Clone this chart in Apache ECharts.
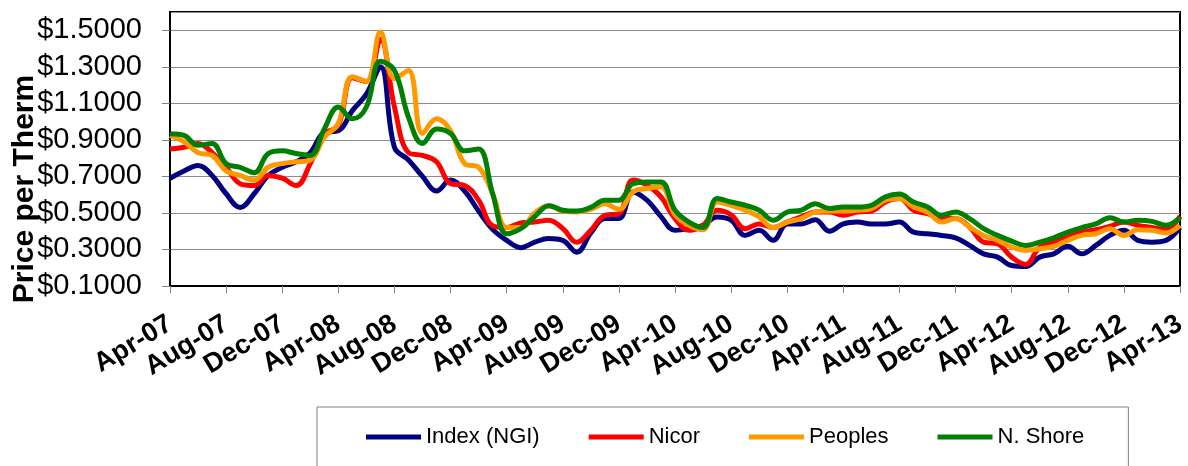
<!DOCTYPE html>
<html>
<head>
    <meta charset="utf-8"/>
    <title></title>
    <script src="https://cdn.jsdelivr.net/npm/echarts@6/dist/echarts.min.js"></script>
    <style>
        html, body { margin: 0; padding: 0; background: #fff; }
        #main { width: 1188px; height: 466px; }
    </style>
</head>
<body>
<div id="main"></div>
<script type="text/javascript">
    /* months, Apr-07 .. Apr-13 */
    var months = [
        'Apr-07', 'May-07', 'Jun-07', 'Jul-07', 'Aug-07', 'Sep-07', 'Oct-07', 'Nov-07', 'Dec-07', 'Jan-08', 'Feb-08', 'Mar-08',
        'Apr-08', 'May-08', 'Jun-08', 'Jul-08', 'Aug-08', 'Sep-08', 'Oct-08', 'Nov-08', 'Dec-08', 'Jan-09', 'Feb-09', 'Mar-09',
        'Apr-09', 'May-09', 'Jun-09', 'Jul-09', 'Aug-09', 'Sep-09', 'Oct-09', 'Nov-09', 'Dec-09', 'Jan-10', 'Feb-10', 'Mar-10',
        'Apr-10', 'May-10', 'Jun-10', 'Jul-10', 'Aug-10', 'Sep-10', 'Oct-10', 'Nov-10', 'Dec-10', 'Jan-11', 'Feb-11', 'Mar-11',
        'Apr-11', 'May-11', 'Jun-11', 'Jul-11', 'Aug-11', 'Sep-11', 'Oct-11', 'Nov-11', 'Dec-11', 'Jan-12', 'Feb-12', 'Mar-12',
        'Apr-12', 'May-12', 'Jun-12', 'Jul-12', 'Aug-12', 'Sep-12', 'Oct-12', 'Nov-12', 'Dec-12', 'Jan-13', 'Feb-13', 'Mar-13',
        'Apr-13'
    ];

    var indexNgi = [
        0.69, 0.73, 0.76, 0.705, 0.605, 0.53, 0.605, 0.705, 0.75, 0.78, 0.83, 0.94,
        0.95, 1.06, 1.15, 1.30, 0.86, 0.79, 0.70, 0.62, 0.68, 0.62, 0.51, 0.41,
        0.35, 0.31, 0.34, 0.36, 0.35, 0.285, 0.39, 0.47, 0.47, 0.615, 0.57, 0.48,
        0.405, 0.414, 0.432, 0.478, 0.46, 0.377, 0.405, 0.35, 0.44, 0.44, 0.463, 0.40,
        0.44, 0.45, 0.44, 0.44, 0.45, 0.395, 0.386, 0.377, 0.364, 0.322, 0.276, 0.258,
        0.212, 0.207, 0.258, 0.276, 0.317, 0.276, 0.322, 0.377, 0.405, 0.35, 0.34, 0.35,
        0.42
    ];
    var nicor = [
        0.85, 0.86, 0.88, 0.83, 0.75, 0.66, 0.65, 0.705, 0.69, 0.65, 0.77, 0.93,
        0.98, 1.24, 1.22, 1.45, 1.08, 0.83, 0.815, 0.78, 0.66, 0.65, 0.57, 0.43,
        0.42, 0.445, 0.45, 0.46, 0.415, 0.34, 0.405, 0.487, 0.496, 0.68, 0.652, 0.588,
        0.469, 0.405, 0.432, 0.515, 0.49, 0.414, 0.44, 0.42, 0.45, 0.478, 0.505, 0.505,
        0.487, 0.505, 0.51, 0.56, 0.579, 0.515, 0.496, 0.469, 0.469, 0.423, 0.34, 0.331,
        0.258, 0.218, 0.313, 0.34, 0.368, 0.395, 0.408, 0.427, 0.45, 0.432, 0.42, 0.408,
        0.482
    ];
    var peoples = [
        0.925, 0.89, 0.83, 0.815, 0.73, 0.705, 0.68, 0.75, 0.77, 0.78, 0.79, 0.915,
        0.99, 1.245, 1.22, 1.49, 1.235, 1.28, 0.935, 1.015, 0.95, 0.77, 0.75, 0.605,
        0.42, 0.42, 0.50, 0.54, 0.51, 0.505, 0.52, 0.55, 0.52, 0.615, 0.634, 0.643,
        0.49, 0.432, 0.408, 0.56, 0.542, 0.515, 0.478, 0.42, 0.45, 0.469, 0.505, 0.51,
        0.51, 0.515, 0.524, 0.57, 0.579, 0.533, 0.505, 0.45, 0.469, 0.423, 0.377, 0.35,
        0.313, 0.295, 0.304, 0.317, 0.35, 0.377, 0.386, 0.414, 0.377, 0.408, 0.405, 0.39,
        0.432
    ];
    var nShore = [
        0.934, 0.925, 0.87, 0.88, 0.77, 0.75, 0.72, 0.825, 0.84, 0.825, 0.815, 0.96,
        1.08, 1.015, 1.08, 1.33, 1.28, 1.025, 0.88, 0.96, 0.935, 0.84, 0.85, 0.605,
        0.386, 0.414, 0.48, 0.54, 0.515, 0.51, 0.53, 0.57, 0.57, 0.66, 0.67, 0.67,
        0.515, 0.45, 0.42, 0.579, 0.56, 0.542, 0.515, 0.46, 0.505, 0.515, 0.55, 0.524,
        0.533, 0.533, 0.542, 0.588, 0.603, 0.56, 0.533, 0.487, 0.505, 0.469, 0.414, 0.377,
        0.346, 0.322, 0.34, 0.364, 0.395, 0.42, 0.44, 0.474, 0.45, 0.46, 0.454, 0.432,
        0.474
    ];

    var seriesNames = ['Index (NGI)', 'Nicor', 'Peoples', 'N. Shore'];
    var seriesData = [indexNgi, nicor, peoples, nShore];
    var seriesColors = ['#000080', '#ff0000', '#ff9900', '#008000'];

    var yMin = 0.1, yMax = 1.6, yStep = 0.2;
    var font = '"Liberation Sans", Arial, sans-serif';

    var chart = echarts.init(document.getElementById('main'));

    var series = [];
    for (var i = 0; i < seriesNames.length; i++) {
        series.push({
            name: seriesNames[i],
            type: 'line',
            data: seriesData[i],
            smooth: 0.4,
            symbol: 'none',
            lineStyle: {color: seriesColors[i], width: 5},
            itemStyle: {color: seriesColors[i]}
        });
    }

    var option = {
        animation: false,
        backgroundColor: '#fff',
        grid: {
            left: 170, top: 12, right: 8, bottom: 180,
            show: true, borderColor: '#000', borderWidth: 2,
            containLabel: false, outerBoundsMode: 'none'
        },
        legend: {
            left: 317, top: 407,
            padding: [19, 44, 40, 49],
            borderColor: '#808080', borderWidth: 1,
            icon: 'rect',
            itemWidth: 55, itemHeight: 5, itemGap: 49,
            textStyle: {fontFamily: font, fontSize: 22, color: '#000'},
            data: seriesNames
        },
        graphic: [{
            type: 'text',
            x: 25, y: 189,
            rotation: Math.PI / 2,
            style: {
                text: 'Price per Therm',
                font: 'bold 30px ' + font,
                fill: '#000',
                textAlign: 'center',
                textVerticalAlign: 'middle'
            }
        }],
        xAxis: {
            type: 'category',
            data: months,
            boundaryGap: false,
            axisLine: {lineStyle: {color: '#000', width: 2}},
            axisTick: {interval: 3, length: 7, lineStyle: {color: '#808080', width: 1}},
            axisLabel: {
                interval: 3, rotate: 31, margin: 36,
                fontFamily: font, fontSize: 27, fontWeight: 'bold', color: '#000'
            },
            splitLine: {show: false}
        },
        yAxis: {
            type: 'value',
            min: yMin, max: yMax, interval: yStep,
            axisLine: {show: true, lineStyle: {color: '#000', width: 2}},
            axisTick: {show: true, length: 8, lineStyle: {color: '#808080'}},
            axisLabel: {
                margin: 28, showMaxLabel: false,
                fontFamily: font, fontSize: 29, color: '#000',
                formatter: function (v) { return '$' + v.toFixed(4); }
            },
            splitLine: {lineStyle: {color: '#8c8c8c', width: 1}}
        },
        series: series
    };

    chart.setOption(option);
</script>
</body>
</html>
